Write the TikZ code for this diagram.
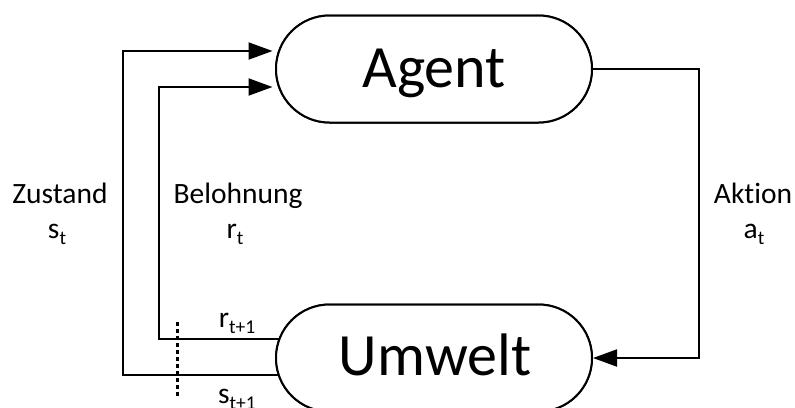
\documentclass[tikz,border=0pt]{standalone}
\usepackage{fontspec}
\setmainfont[Ligatures={NoCommon}]{Carlito}
\usetikzlibrary{shapes.misc,arrows.meta}
\newcommand\mysub[1]{\raisebox{-6.5pt}{\fontsize{19.5}{19.5}\selectfont #1}}
\begin{document}
\begin{tikzpicture}[x=1pt,y=-1pt, line width=2pt,
 box/.style={rounded rectangle, draw, fill=white, minimum width=316pt, minimum height=107pt, inner sep=0pt, line width=2pt},
 lbl/.style={font=\fontsize{29.5}{31}\selectfont, anchor=base, inner sep=0pt},
 big/.style={font=\fontsize{60}{60}\selectfont, anchor=base, inner sep=0pt},
 arr/.style={-{Triangle[length=24pt,width=17pt]}},
 dots/.style={line width=3pt, dash pattern=on 4pt off 3pt}]
\useasboundingbox (0,0) rectangle (795,407);
\path (434,69) node[box] (a) {};
\path (434,358) node[box] (u) {};
\coordinate (s1) at (123,375);
\coordinate (s2) at (123,51);
\coordinate (r1) at (159,339);
\coordinate (r2) at (159,87);
\coordinate (k) at (699,0);
\coordinate (d1) at (177,322);
\coordinate (d2) at (177,396);
% connectors
\draw[arr, shorten >=2.5pt] (u.center |- s1) -- (s1) -- (s2) -- (a.west |- s2);
\draw[arr, shorten >=2.5pt] (u.center |- r1) -- (r1) -- (r2) -- (a.west |- r2);
\draw[arr] (a.center) -- (a.center -| k) -- (u.center -| k) -- (u.east);
% boxes on top
\node[box] at (a.center) {};
\node[box] at (u.center) {};
\node[big] (at) at (434,87) {Agent};
\node[big] (ut) at (435,375) {Umwelt};
\draw[dots] (d1) -- (d2);
% labels
\node[lbl] (z1) at (60,203) {Zustand};
\node[lbl] (z2) at (57,238) {s\mysub{t}};
\node[lbl] (b1) at (238,203) {Belohnung};
\node[lbl] (b2) at (235,238) {r\mysub{t}};
\node[lbl] (k1) at (753,203) {Aktion};
\node[lbl] (k2) at (754,238) {a\mysub{t}};
\node[lbl] (rn) at (237,327) {r\mysub{t+1}};
\node[lbl] (sn) at (237,403) {s\mysub{t+1}};
\end{tikzpicture}
\end{document}
